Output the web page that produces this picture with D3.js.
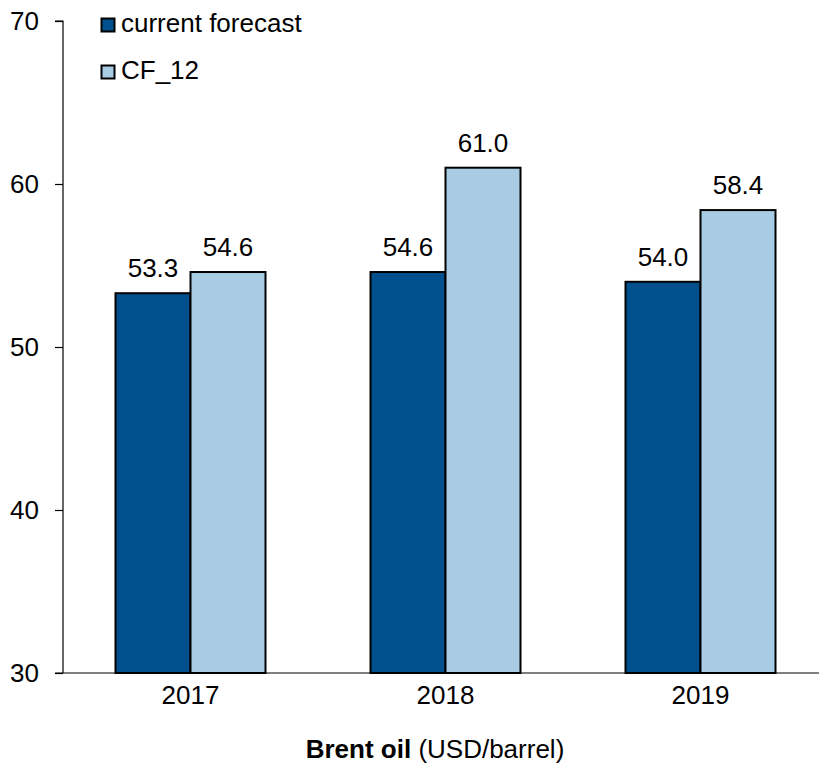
<!DOCTYPE html>
<html>
<head>
<meta charset="utf-8">
<script src="https://cdn.jsdelivr.net/npm/d3@7"></script>
<style>
  html, body { margin: 0; padding: 0; background: #fff; }
  svg text { font-family: "Liberation Sans", Arial, sans-serif; fill: #000; }
</style>
</head>
<body>
<svg id="chart" width="819" height="767"></svg>
<script>
// Brent oil price forecasts, USD/barrel
const years = ["2017", "2018", "2019"];
const seriesNames = ["current forecast", "CF_12"];
const currentForecast = [53.3, 54.6, 54.0];
const cf12 = [54.6, 61.0, 58.4];
const yTicks = [30, 40, 50, 60, 70];
const colors = ["#00508d", "#a7cce4"];

const svg = d3.select("#chart");
const plotLeft = 63, plotRight = 828, plotTop = 21, plotBottom = 673;
const fontSize = 26;

const x = d3.scaleBand().domain(years).range([plotLeft, plotRight]).paddingInner(0).paddingOuter(0);
const x1 = d3.scaleBand().domain(seriesNames).range([0, 150]);
const y = d3.scaleLinear().domain([30, 70]).range([plotBottom, plotTop]);

const values = [currentForecast, cf12];
const groupOffset = (x.bandwidth() - 150) / 2;

// Bars with value labels
years.forEach((yr, i) => {
  seriesNames.forEach((s, j) => {
    const v = values[j][i];
    const bx = x(yr) + groupOffset + x1(s);
    svg.append("rect")
      .attr("x", bx)
      .attr("y", y(v))
      .attr("width", x1.bandwidth())
      .attr("height", y(30) - y(v))
      .attr("fill", colors[j])
      .attr("stroke", "#000")
      .attr("stroke-width", 2);
    svg.append("text")
      .attr("x", bx + x1.bandwidth() / 2)
      .attr("y", y(v) - 16)
      .attr("text-anchor", "middle")
      .attr("font-size", fontSize)
      .text(v.toFixed(1));
  });
});

// Y axis
const yAxis = d3.axisLeft(y).tickValues(yTicks).tickSize(8).tickPadding(16).tickFormat(d3.format("d"));
const gy = svg.append("g").attr("transform", `translate(${plotLeft},0)`).call(yAxis);
gy.select(".domain").attr("stroke", "#000").attr("stroke-width", 1.2).attr("d", `M-8,${plotTop}H0V${plotBottom}`);
gy.selectAll(".tick line").attr("stroke", "#000").attr("stroke-width", 1.2);
gy.selectAll(".tick text").attr("font-size", fontSize).attr("font-family", "Liberation Sans, Arial, sans-serif").attr("fill", "#000");

// X axis
const xAxis = d3.axisBottom(x).tickSize(0).tickPadding(13);
const gx = svg.append("g").attr("transform", `translate(0,${plotBottom})`).call(xAxis);
gx.select(".domain").attr("stroke", "#000").attr("stroke-width", 1.2).attr("d", `M${plotLeft - 8},0H819`);
gx.selectAll(".tick text").attr("font-size", fontSize).attr("font-family", "Liberation Sans, Arial, sans-serif").attr("fill", "#000");

// Legend
seriesNames.forEach((s, j) => {
  const ly = 18.5 + j * 47;
  svg.append("rect")
    .attr("x", 101.5).attr("y", ly)
    .attr("width", 13).attr("height", 13)
    .attr("fill", colors[j])
    .attr("stroke", "#000").attr("stroke-width", 2);
  svg.append("text")
    .attr("x", 121).attr("y", ly + 13.5)
    .attr("font-size", fontSize)
    .text(s);
});

// Axis title
const title = svg.append("text")
  .attr("x", 435).attr("y", 758)
  .attr("text-anchor", "middle")
  .attr("font-size", fontSize);
title.append("tspan").attr("font-weight", "bold").text("Brent oil");
title.append("tspan").text(" (USD/barrel)");
</script>
</body>
</html>
